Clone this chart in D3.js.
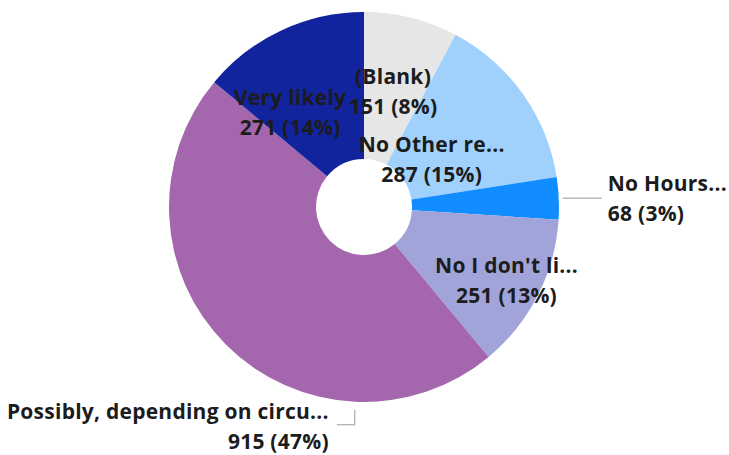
<!DOCTYPE html>
<html>
<head>
<meta charset="utf-8">
<script src="https://cdn.jsdelivr.net/npm/d3@7"></script>
<style>
  body { margin: 0; background: #fff; }
  .lbl { font-family: "Open Sans", sans-serif; font-weight: 700; font-size: 21px; letter-spacing: 0.25px; fill: #1c1c1c; }
</style>
</head>
<body>
<div class="chart"></div>
<script>
var categories = ["(Blank)", "No Other re...", "No Hours...", "No I don't li...", "Possibly, depending on circu...", "Very likely"];
var values = [151, 287, 68, 251, 915, 271];
var colors = ["#e6e6e6", "#a0d1fd", "#118dff", "#a1a4d8", "#a466ac", "#12239e"];

var svgWidth = 729;
var svgHeight = 455;
var cx = 364, cy = 207;
var outerR = 195, innerR = 48;

// label placement per slice: inside (radius, angle in deg) or outside
var labelLayout = [
  { side: "in", r: 120, a: null },
  { side: "in", r: 83, a: null },
  { side: "right", a: null },
  { side: "in", r: 160, a: null },
  { side: "left", a: 182.6 },
  { side: "in", r: 120, a: -38 }
];

var svg = d3
  .select(".chart")
  .append("svg")
  .attr("width", svgWidth)
  .attr("height", svgHeight);

var chart = svg.append("g")
  .attr("transform", "translate(" + cx + "," + cy + ")");

var total = d3.sum(values);
var pie = d3.pie().sort(null).value(function(d) { return d; });
var arcs = pie(values);

var arc = d3.arc().innerRadius(innerR).outerRadius(outerR);

chart.selectAll("path")
  .data(arcs)
  .enter()
  .append("path")
  .attr("d", arc)
  .attr("fill", function(d, i) { return colors[i]; });

function polar(r, deg) {
  var t = deg * Math.PI / 180;
  return [r * Math.sin(t), -r * Math.cos(t)];
}

var lineH = 30;

arcs.forEach(function(d, i) {
  var lay = labelLayout[i];
  var mid = (d.startAngle + d.endAngle) / 2 * 180 / Math.PI;
  var ang = lay.a === null ? mid : lay.a;
  var pct = Math.round(values[i] / total * 100);
  var line2 = values[i] + " (" + pct + "%)";
  var x, y, anchor;

  if (lay.side === "in") {
    var p = polar(lay.r, ang);
    x = p[0]; y = p[1]; anchor = "middle";
  } else if (lay.side === "right") {
    var s = polar(outerR + 4, ang);
    chart.append("path")
      .attr("d", "M" + s[0] + "," + s[1] + "H" + (s[0] + 39))
      .attr("stroke", "#999").attr("fill", "none");
    x = s[0] + 45; y = s[1]; anchor = "start";
  } else {
    var s2 = polar(outerR + 8, ang);
    chart.append("path")
      .attr("d", "M" + s2[0] + "," + s2[1] + "V" + (s2[1] + 15) + "H" + (s2[0] - 18))
      .attr("stroke", "#999").attr("fill", "none");
    x = s2[0] - 26; y = s2[1] + 16; anchor = "end";
  }

  var t = chart.append("text")
    .attr("class", "lbl")
    .attr("text-anchor", anchor)
    .attr("x", x)
    .attr("y", y);
  t.append("tspan").attr("x", x).attr("dy", 0).text(categories[i]);
  t.append("tspan").attr("x", x).attr("dy", lineH).text(line2);
  // center the block on y
  t.attr("transform", "translate(0," + (-lineH / 2 + 8) + ")");
});
</script>
</body>
</html>
